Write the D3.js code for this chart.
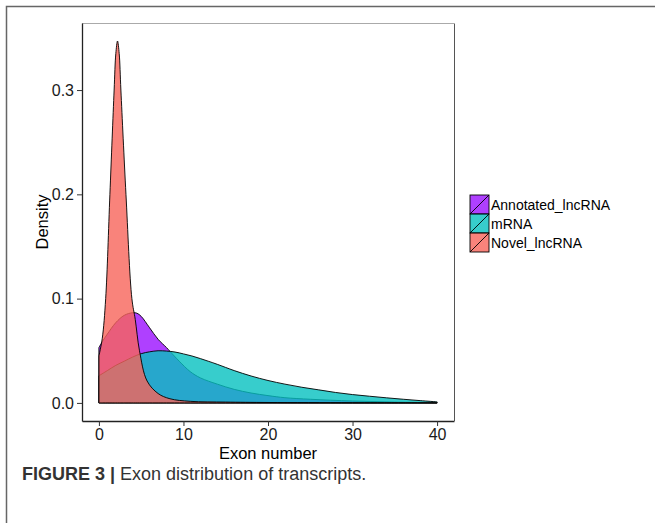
<!DOCTYPE html>
<html>
<head>
<meta charset="utf-8">
<script src="https://d3js.org/d3.v7.min.js"></script>
<style>
  body { margin: 0; background: #fff; }
  text { font-family: "Liberation Sans", Arial, sans-serif; }
</style>
</head>
<body>
<script>
// values (exon number -> density)
var series = ["Annotated_lncRNA", "mRNA", "Novel_lncRNA"];
var colors = ["#9B10FF", "#05C0BF", "#F8645A"];

var exonAnnot = [0, 0.5, 1, 2, 3, 4, 4.5, 5, 6, 7, 8, 8.4, 9.5, 10.8, 12, 14, 16, 18, 20, 22, 25, 30, 35, 40];
var densAnnot = [0.053, 0.060, 0.066, 0.077, 0.084, 0.0865, 0.086, 0.083, 0.072, 0.061, 0.053, 0.0495, 0.040, 0.030, 0.024, 0.018, 0.013, 0.0095, 0.007, 0.005, 0.0035, 0.0018, 0.0008, 0.0003];

var exonMrna = [0, 1, 2, 3, 4, 5, 6, 7, 8, 9, 10, 11, 12, 13, 14, 16, 18, 20, 22, 24, 26, 28, 30, 32, 34, 36, 38, 40];
var densMrna = [0.026, 0.031, 0.036, 0.040, 0.044, 0.0472, 0.049, 0.050, 0.0497, 0.0488, 0.047, 0.045, 0.0425, 0.0398, 0.037, 0.031, 0.0258, 0.0215, 0.018, 0.015, 0.0125, 0.010, 0.008, 0.0064, 0.0049, 0.0035, 0.0022, 0.001];

var exonNovel = [0, 0.4, 0.8, 1.3, 1.8, 2.0, 2.2, 2.4, 2.6, 3.2, 3.9, 4.3, 4.8, 5.7, 7.0, 8.4, 10.8, 15, 20, 30, 40];
var densNovel = [0.045, 0.062, 0.10, 0.20, 0.30, 0.335, 0.347, 0.335, 0.30, 0.20, 0.10, 0.08, 0.05, 0.021, 0.009, 0.004, 0.0015, 0.0008, 0.0004, 0.0001, 0];

var xTicks = [0, 10, 20, 30, 40];
var yTicks = [0, 0.1, 0.2, 0.3];

var w = 655, h = 523;
// panel edges (don't call it "top", that's window.top)
var pLeft = 82, pRight = 454, pTop = 23, pBottom = 421;

var svg = d3.select("body").append("svg")
  .attr("width", w)
  .attr("height", h);

// outer figure frame
svg.append("path")
  .attr("d", "M6.5," + h + "V6.5H" + w)
  .attr("fill", "none")
  .attr("stroke", "#666")
  .attr("stroke-width", 1.5);

var x = d3.scaleLinear().domain([-2, 42]).range([pLeft, pRight]);
var y = d3.scaleLinear().domain([-0.01735, 0.3643]).range([pBottom, pTop]);

var area = d3.area()
  .x(function(d) { return x(d[0]); })
  .y0(y(0))
  .y1(function(d) { return Math.min(y(d[1]), y(0)); })
  .curve(d3.curveCatmullRom.alpha(0.5));

var layers = [
  d3.zip(exonAnnot, densAnnot),
  d3.zip(exonMrna, densMrna),
  d3.zip(exonNovel, densNovel)
];

svg.selectAll(".dens")
  .data(layers)
  .enter()
  .append("path")
  .attr("class", "dens")
  .attr("d", area)
  .attr("fill", function(d, i) { return colors[i]; })
  .attr("fill-opacity", 0.8)
  .attr("stroke", "#000")
  .attr("stroke-width", 0.9);

// panel border: top light grey, right darker
svg.append("line")
  .attr("x1", pLeft).attr("x2", pRight + 1)
  .attr("y1", pTop + 0.5).attr("y2", pTop + 0.5)
  .attr("stroke", "#aaa");
svg.append("line")
  .attr("x1", pRight + 0.5).attr("x2", pRight + 0.5)
  .attr("y1", pTop + 1).attr("y2", pBottom)
  .attr("stroke", "#555");

// axes
var yAxis = svg.append("g")
  .attr("transform", "translate(" + pLeft + ",0)")
  .call(d3.axisLeft(y).tickValues(yTicks).tickFormat(d3.format(".1f")).tickSize(5).tickSizeOuter(0).tickPadding(3));
var xAxis = svg.append("g")
  .attr("transform", "translate(0," + pBottom + ")")
  .call(d3.axisBottom(x).tickValues(xTicks).tickSize(5).tickSizeOuter(0).tickPadding(3));

[yAxis, xAxis].forEach(function(g) {
  g.select(".domain").attr("stroke", "#222").attr("stroke-width", 1.3);
  g.selectAll(".tick line").attr("stroke", "#333").attr("stroke-width", 1);
  g.selectAll(".tick text")
    .attr("fill", "#1a1a1a")
    .attr("font-size", "16px")
    .attr("font-family", "Liberation Sans, Arial, sans-serif");
});

svg.append("text")
  .attr("transform", "translate(48," + ((pTop + pBottom) / 2) + ") rotate(-90)")
  .attr("text-anchor", "middle")
  .attr("font-size", "16.5px")
  .text("Density");

svg.append("text")
  .attr("x", (pLeft + pRight) / 2)
  .attr("y", 459)
  .attr("text-anchor", "middle")
  .attr("font-size", "16.5px")
  .text("Exon number");

// legend
var key = 19;
var legend = svg.selectAll(".leg")
  .data(series)
  .enter()
  .append("g")
  .attr("class", "leg")
  .attr("transform", function(d, i) { return "translate(470," + (195 + i * key) + ")"; });

legend.append("rect")
  .attr("width", key).attr("height", key)
  .attr("fill", function(d, i) { return colors[i]; })
  .attr("fill-opacity", 0.8)
  .attr("stroke", "#000")
  .attr("stroke-width", 0.9);
legend.append("line")
  .attr("x1", 0).attr("y1", key).attr("x2", key).attr("y2", 0)
  .attr("stroke", "#000").attr("stroke-width", 0.9);
legend.append("text")
  .attr("x", key + 2)
  .attr("y", key / 2 + 5.5)
  .attr("font-size", "14px")
  .text(function(d) { return d; });

// caption
var cap = svg.append("text")
  .attr("x", 22)
  .attr("y", 480)
  .attr("font-size", "18px")
  .attr("fill", "#333");
cap.append("tspan").attr("font-weight", "bold").text("FIGURE 3 | ");
cap.append("tspan").text("Exon distribution of transcripts.");
</script>
</body>
</html>
